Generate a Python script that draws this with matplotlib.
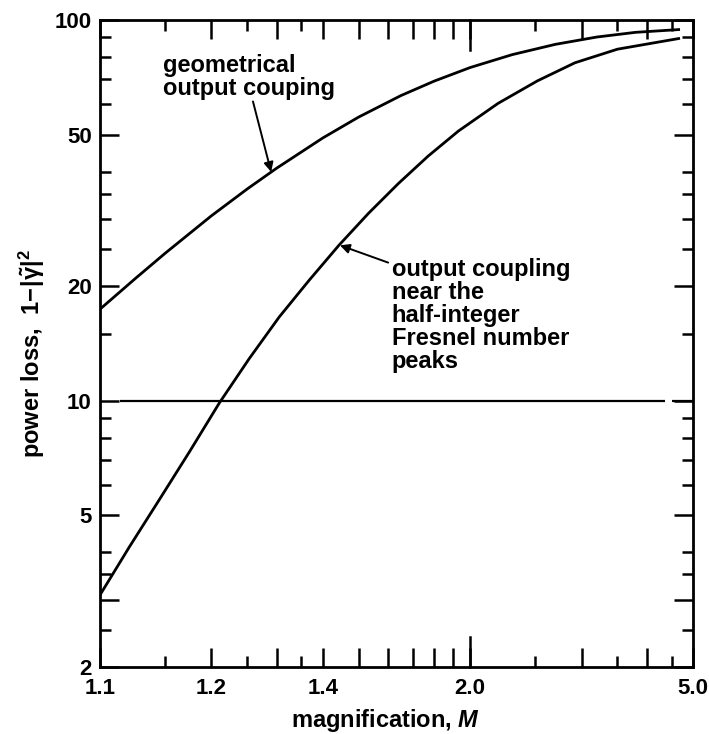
import numpy as np
import matplotlib.pyplot as plt
from matplotlib.ticker import FixedLocator, FixedFormatter, NullFormatter

plt.rcParams['font.family'] = ['Liberation Sans', 'DejaVu Sans']
plt.rcParams['font.weight'] = 'bold'
plt.rcParams['axes.labelweight'] = 'bold'
plt.rcParams['mathtext.fontset'] = 'custom'
plt.rcParams['mathtext.rm'] = 'Liberation Sans:bold'
plt.rcParams['mathtext.it'] = 'Liberation Sans:italic:bold'
plt.rcParams['mathtext.bf'] = 'Liberation Sans:bold'

# valeurs (perte en %)
geo_M = [1.10, 1.125, 1.15, 1.20, 1.25, 1.30, 1.40, 1.50, 1.65, 1.80, 2.00, 2.30, 2.70, 3.20, 3.80, 4.69]
geo_loss = [17.4, 21.0, 24.4, 30.6, 36.0, 40.8, 49.0, 55.6, 63.3, 69.1, 75.0, 81.1, 86.3, 90.2, 92.8, 94.4]

peak_M = [1.10, 1.12, 1.145, 1.175, 1.21, 1.253, 1.305, 1.367, 1.442, 1.532,
          1.64, 1.77, 1.93, 2.19, 2.52, 2.92, 3.50, 4.69]
peak_loss = [3.09, 4.13, 5.52, 7.38, 9.86, 12.9, 16.6, 20.7, 25.6, 31.1,
             37.2, 43.9, 51.1, 60.4, 69.2, 77.2, 83.8, 89.5]

ref_loss = 10

x_major = [1.1, 1.2, 1.3, 1.4, 1.5, 1.6, 1.7, 1.8, 1.9, 2.0, 3.0, 4.0, 5.0]
x_labels = {1.1: '1.1', 1.2: '1.2', 1.4: '1.4', 2.0: '2.0', 5.0: '5.0'}
x_minor = [1.15, 1.25, 1.35, 2.5, 3.5, 4.5]
y_major = [2, 3, 5, 10, 20, 50, 100]
y_labels = {2: '2', 5: '5', 10: '10', 20: '20', 50: '50', 100: '100'}
y_minor = [2.5, 3.5, 4, 6, 7, 8, 9, 15, 25, 30, 35, 40, 60, 70, 80, 90]


# l'axe des x est logarithmique en M-1
def fwd(m):
    return np.log10(np.clip(np.asarray(m, dtype=float) - 1, 1e-6, None))


def inv(u):
    return 10 ** np.asarray(u, dtype=float) + 1


fig = plt.figure(figsize=(7.09, 7.34), dpi=100)
ax = fig.add_axes([0.141, 0.0913, 0.8364, 0.8815])
ax.set_xscale('function', functions=(fwd, inv))
ax.set_yscale('log')
ax.set_xlim(1.1, 5.0)
ax.set_ylim(2, 100)

ax.plot(geo_M, geo_loss, color='k', lw=2.0, solid_capstyle='butt', solid_joinstyle='round')
ax.plot(peak_M, peak_loss, color='k', lw=2.0, solid_capstyle='butt', solid_joinstyle='round')
ax.hlines([ref_loss, ref_loss], [1.113, 4.51], [4.365, 5.0], color='k', lw=1.6)

for s in ax.spines.values():
    s.set_linewidth(2.0)

ax.xaxis.set_major_locator(FixedLocator(x_major))
ax.xaxis.set_major_formatter(FixedFormatter([x_labels.get(v, '') for v in x_major]))
ax.xaxis.set_minor_locator(FixedLocator(x_minor))
ax.xaxis.set_minor_formatter(NullFormatter())
ax.yaxis.set_major_locator(FixedLocator(y_major))
ax.yaxis.set_major_formatter(FixedFormatter([y_labels.get(v, '') for v in y_major]))
ax.yaxis.set_minor_locator(FixedLocator(y_minor))
ax.yaxis.set_minor_formatter(NullFormatter())

ax.tick_params(which='both', direction='in', top=True, right=True, width=1.8, color='k')
ax.tick_params(which='major', length=14)
ax.tick_params(which='minor', length=8)
ax.tick_params(axis='x', which='major', pad=8, labelsize=16)
ax.tick_params(axis='y', which='major', pad=6, labelsize=16)

# grand trait à M = 2.0
tr = ax.get_xaxis_transform()
ax.plot([2.0, 2.0], [0, 0.046], transform=tr, color='k', lw=1.8, clip_on=False)
ax.plot([2.0, 2.0], [0.954, 1], transform=tr, color='k', lw=1.8, clip_on=False)

ax.set_xlabel(r'magnification, $\mathit{M}$', fontsize=17)
ax.xaxis.set_label_coords(0.482, -0.062)
ax.set_ylabel(r'power loss,  $1\!-\!|\tilde{\mathrm{\gamma}}|^2$', fontsize=17)
ax.yaxis.set_label_coords(-0.089, 0.485)

arrow = dict(arrowstyle='-|>', color='k', lw=1.4, mutation_scale=14, shrinkA=0, shrinkB=0)

ax.text(0.106, 0.948, 'geometrical\noutput couping', transform=ax.transAxes,
        ha='left', va='top', fontsize=17, linespacing=1.0)
ax.annotate('', xy=(1.29, 39.9), xytext=(0.258, 0.874), textcoords='axes fraction',
            arrowprops=arrow)

ax.text(0.492, 0.632, 'output coupling\nnear the\nhalf-integer\nFresnel number\npeaks',
        transform=ax.transAxes, ha='left', va='top', fontsize=17, linespacing=1.0)
ax.annotate('', xy=(1.445, 25.6), xytext=(0.486, 0.625), textcoords='axes fraction',
            arrowprops=arrow)

fig.savefig('out.png', dpi=100)
